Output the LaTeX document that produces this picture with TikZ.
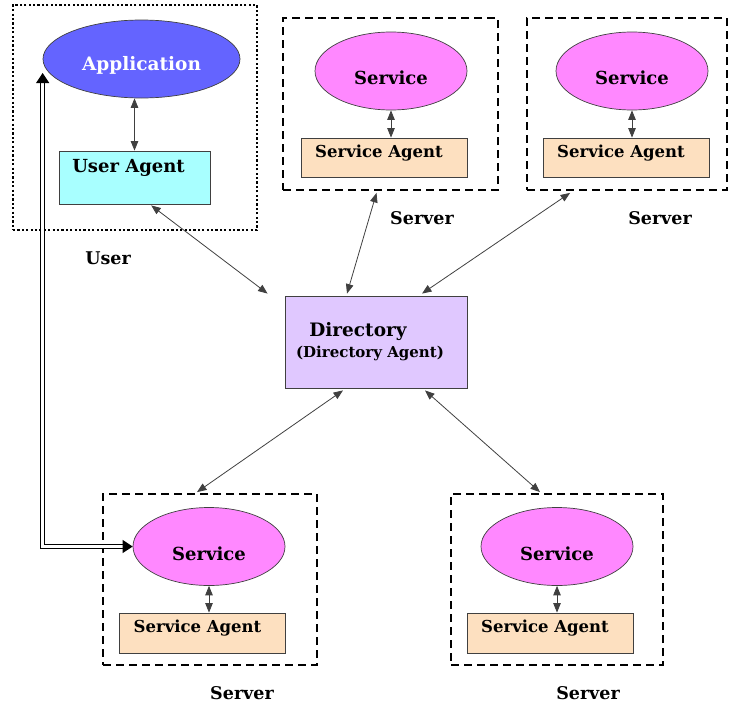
\documentclass[tikz,border=0pt]{standalone}
\usepackage{fontspec}
\setmainfont{DejaVu Serif}
\usetikzlibrary{shapes.geometric,arrows.meta,calc}

\definecolor{appblue}{RGB}{100,100,255}
\definecolor{svcpink}{RGB}{255,136,255}
\definecolor{agentpeach}{RGB}{253,224,192}
\definecolor{uacyan}{RGB}{168,255,255}
\definecolor{dirlilac}{RGB}{224,200,255}
\definecolor{edge}{RGB}{64,64,64}

\newcommand{\txtsize}[1]{\fontsize{#1}{#1}\selectfont\bfseries}

\tikzset{
  appshape/.style={ellipse, draw=edge, line width=0.7pt, fill=appblue,
    minimum width=197pt, minimum height=78pt, inner sep=0pt},
  svcshape/.style={ellipse, draw=edge, line width=0.7pt, fill=svcpink,
    minimum width=152pt, minimum height=78pt, inner sep=0pt},
  agentbox/.style={rectangle, draw=edge, line width=0.8pt, fill=agentpeach,
    minimum width=166pt, minimum height=39pt, inner sep=0pt},
  uabox/.style={rectangle, draw=edge, line width=0.8pt, fill=uacyan,
    minimum width=151pt, minimum height=53pt, inner sep=0pt},
  dirbox/.style={rectangle, draw=edge, line width=0.8pt, fill=dirlilac,
    minimum width=182pt, minimum height=92pt, inner sep=0pt},
  serverbox/.style={rectangle, draw=black, line width=1.8pt,
    dash pattern=on 8pt off 5pt, inner sep=0pt},
  userbox/.style={rectangle, draw=black, line width=2.2pt,
    dash pattern=on 2.2pt off 2.2pt, inner sep=0pt},
  caption/.style={font=\txtsize{17.5}, inner sep=0pt},
  svclabel/.style={label={[font=\txtsize{18}, yshift=-7pt]center:Service}},
  agentlabel/.style={label={[font=\txtsize{16.5}, xshift=-5pt, yshift=4.5pt]center:Service Agent}},
  link/.style={draw=edge, line width=0.8pt,
    {Triangle[length=9.5pt,width=7.5pt]}-{Triangle[length=9.5pt,width=7.5pt]}},
  dbl/.style={draw=black, double=white, double distance=3pt, line width=1pt,
    {Triangle[length=10pt,width=13pt]}-{Triangle[length=10pt,width=13pt]}},
}

\begin{document}
\begin{tikzpicture}[x=1pt,y=-1pt]
  \useasboundingbox (0,0) rectangle (730,704);

  % user side
  \node[userbox, minimum width=244pt, minimum height=225pt] (userbox) at (135,117.5) {};
  \node[appshape, label={[font=\txtsize{18.5}, text=white, yshift=-6pt]center:Application}] (app) at (141.5,59) {};
  \node[uabox, label={[font=\txtsize{18}, xshift=-6pt, yshift=10pt]center:User Agent}] (ua) at (134.5,177.5) {};
  \node[caption] (userlbl) at (108,258) {User};

  % directory
  \node[dirbox] (dir) at (376,342) {};
  \node[font=\txtsize{18.5}, inner sep=0pt] (dirtitle) at (358,332) {Directory};
  \node[font=\txtsize{15}, inner sep=0pt] (dirsub) at (370,353) {(Directory Agent)};

  % servers: box, service, agent, caption
  \node[serverbox, minimum width=215pt, minimum height=172pt] (srvA) at (390.5,104) {};
  \node[svcshape, svclabel] (svcA) at (391,71) {};
  \node[agentbox, agentlabel] (agA) at (384,157.5) {};
  \node[caption] (lblA) at (422,218) {Server};

  \node[serverbox, minimum width=200pt, minimum height=172pt] (srvB) at (627,104) {};
  \node[svcshape, svclabel] (svcB) at (632,71) {};
  \node[agentbox, agentlabel] (agB) at (626,157.5) {};
  \node[caption] (lblB) at (660,218) {Server};

  \node[serverbox, minimum width=214pt, minimum height=171pt] (srvC) at (210,579.5) {};
  \node[svcshape, svclabel] (svcC) at (209,546.5) {};
  \node[agentbox, minimum height=40pt, agentlabel] (agC) at (202.5,633) {};
  \node[caption] (lblC) at (242,693) {Server};

  \node[serverbox, minimum width=212pt, minimum height=171pt] (srvD) at (557,579.5) {};
  \node[svcshape, svclabel] (svcD) at (557,546.5) {};
  \node[agentbox, minimum height=40pt, agentlabel] (agD) at (550,633) {};
  \node[caption] (lblD) at (588,693) {Server};

  % links inside each box
  \draw[link] (app.south -| ua.north) -- (ua.north);
  \draw[link] (svcA.south) -- (svcA.south |- agA.north);
  \draw[link] (svcB.south) -- (svcB.south |- agB.north);
  \draw[link] (svcC.south) -- (svcC.south |- agC.north);
  \draw[link] (svcD.south) -- (svcD.south |- agD.north);

  % links to the directory
  \draw[link] ($(ua.south west)!0.61!(ua.south east)+(0,1)$) -- ($(dir.north west)+(-17,-2)$);
  \draw[link] ($(srvA.south)+(-14,2)$) -- ($(dir.north)+(-29,-2)$);
  \draw[link] ($(srvB.south west)+(44,2)$) -- ($(dir.north)+(46,-2)$);
  \draw[link] ($(dir.south)+(-33,2)$) -- ($(srvC.north)+(-13,-1)$);
  \draw[link] ($(dir.south)+(49,2)$) -- ($(srvD.north)+(-17,-1)$);

  % direct application-to-service path
  \draw[dbl] ($(app.west)+(0,14)$) -- (app.west |- svcC.west) -- (svcC.west);
\end{tikzpicture}
\end{document}
